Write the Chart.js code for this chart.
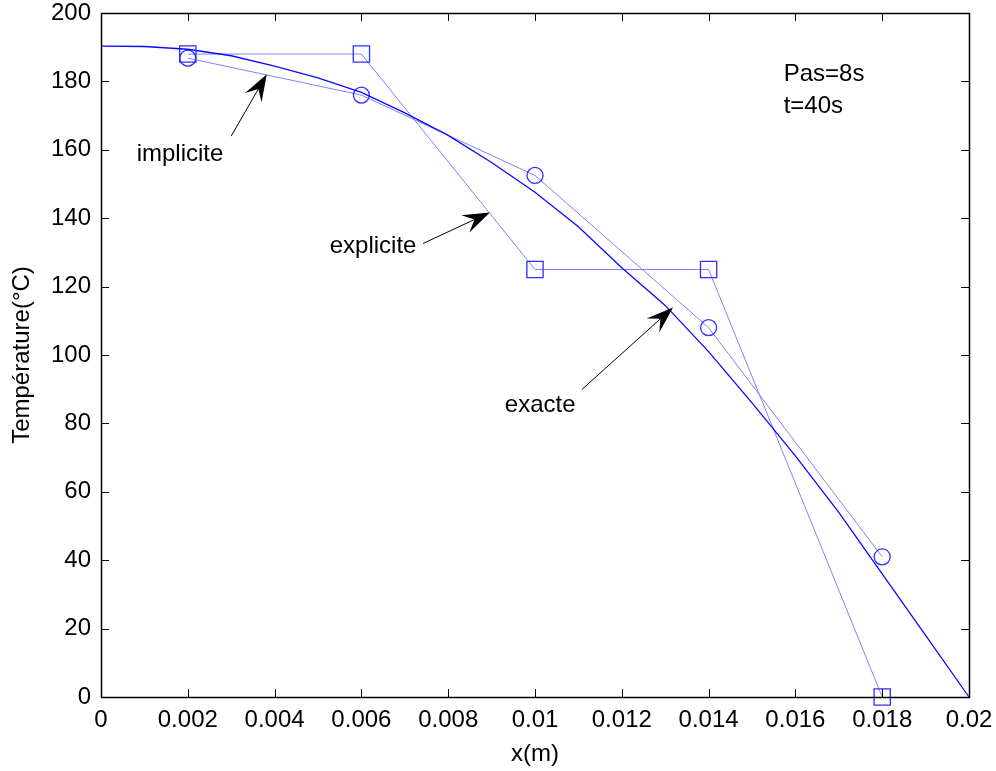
<!DOCTYPE html>
<html>
<head>
<meta charset="utf-8">
<script src="https://cdn.jsdelivr.net/npm/chart.js@4/dist/chart.umd.min.js"></script>
<style>
  html, body { margin: 0; padding: 0; background: #fff; }
  #wrap { width: 996px; height: 771px; }
</style>
</head>
<body>
<div id="wrap"><canvas id="c"></canvas></div>
<script>
// values
var xNodes = [0.002, 0.006, 0.01, 0.014, 0.018];
var tImplicite = [186.8, 176, 152.5, 108, 41];
var tExplicite = [188, 188, 125, 125, 0];

var xExact = [0, 0.001, 0.002, 0.003, 0.004, 0.005, 0.006, 0.007, 0.008, 0.009, 0.01,
              0.011, 0.012, 0.013, 0.014, 0.015, 0.016, 0.017, 0.018, 0.019, 0.02];
var tExact = [190.3, 190.2, 189.4, 187.5, 184.5, 181, 176.8, 170.8, 164.2, 156.3, 147.6,
              137.5, 125.5, 114.5, 101, 86, 70.5, 54, 36, 18, 0];

var xTicks = [0, 0.002, 0.004, 0.006, 0.008, 0.01, 0.012, 0.014, 0.016, 0.018, 0.02];
var xTickLabels = ['0', '0.002', '0.004', '0.006', '0.008', '0.01', '0.012', '0.014', '0.016', '0.018', '0.02'];
var yTicks = [0, 20, 40, 60, 80, 100, 120, 140, 160, 180, 200];
var yTickLabels = ['0', '20', '40', '60', '80', '100', '120', '140', '160', '180', '200'];

// annotations, in data units
var arrows = [
  { text: 'implicite', tx: 0.00182, ty: 158.7, x0: 0.0030, y0: 164, x1: 0.00382, y1: 182.1 },
  { text: 'explicite', tx: 0.00627, ty: 131.8, x0: 0.00742, y0: 132.6, x1: 0.00896, y1: 141.7 },
  { text: 'exacte', tx: 0.01012, ty: 85.2, x0: 0.01108, y0: 89.9, x1: 0.01318, y1: 113.9 }
];
var notes = [
  { text: 'Pas=8s', x: 0.01573, y: 182.1 },
  { text: 't=40s', x: 0.01573, y: 172.8 }
];

var FONT = 'Liberation Sans, Arial, sans-serif';

function pts(xs, ys) {
  var out = [];
  for (var i = 0; i < xs.length; i++) out.push({ x: xs[i], y: ys[i] });
  return out;
}

function drawArrow(ctx, x0, y0, x1, y1) {
  var dx = x1 - x0, dy = y1 - y0;
  var len = Math.sqrt(dx * dx + dy * dy);
  var ux = dx / len, uy = dy / len;
  var nx = -uy, ny = ux;
  var L = 27, W = 9.5, N = 17;
  ctx.beginPath();
  ctx.moveTo(x0, y0);
  ctx.lineTo(x1 - N * ux, y1 - N * uy);
  ctx.stroke();
  ctx.beginPath();
  ctx.moveTo(x1, y1);
  ctx.lineTo(x1 - L * ux + W * nx, y1 - L * uy + W * ny);
  ctx.lineTo(x1 - N * ux, y1 - N * uy);
  ctx.lineTo(x1 - L * ux - W * nx, y1 - L * uy - W * ny);
  ctx.closePath();
  ctx.fill();
}

var boxPlugin = {
  id: 'matlabBox',
  afterDraw: function(chart) {
    var ctx = chart.ctx, a = chart.chartArea;
    var xs = chart.scales.x, ys = chart.scales.y;
    ctx.save();
    ctx.strokeStyle = '#000';
    ctx.lineWidth = 1;
    // inward ticks on all four sides
    ctx.beginPath();
    xTicks.forEach(function(v) {
      var px = Math.round(xs.getPixelForValue(v)) + 0.5;
      ctx.moveTo(px, a.bottom); ctx.lineTo(px, a.bottom - 8);
      ctx.moveTo(px, a.top); ctx.lineTo(px, a.top + 8);
    });
    yTicks.forEach(function(v) {
      var py = Math.round(ys.getPixelForValue(v)) + 0.5;
      ctx.moveTo(a.left, py); ctx.lineTo(a.left + 8, py);
      ctx.moveTo(a.right, py); ctx.lineTo(a.right - 8, py);
    });
    ctx.stroke();
    ctx.lineWidth = 1.5;
    ctx.strokeRect(Math.round(a.left) + 0.5, Math.round(a.top) + 0.5,
                   Math.round(a.right - a.left), Math.round(a.bottom - a.top));

    // annotations
    ctx.fillStyle = '#000';
    ctx.lineWidth = 1;
    ctx.font = '24px ' + FONT;
    ctx.textBaseline = 'middle';
    arrows.forEach(function(r) {
      ctx.textAlign = 'center';
      ctx.fillText(r.text, xs.getPixelForValue(r.tx), ys.getPixelForValue(r.ty));
      drawArrow(ctx, xs.getPixelForValue(r.x0), ys.getPixelForValue(r.y0),
                xs.getPixelForValue(r.x1), ys.getPixelForValue(r.y1));
    });
    ctx.textAlign = 'left';
    notes.forEach(function(n) {
      ctx.fillText(n.text, xs.getPixelForValue(n.x), ys.getPixelForValue(n.y));
    });
    ctx.restore();
  }
};

var chart = new Chart(document.getElementById('c'), {
  type: 'scatter',
  data: {
    datasets: [{
      label: 'exacte',
      data: pts(xExact, tExact),
      showLine: true,
      borderColor: '#0a0aff',
      borderWidth: 1.3,
      pointRadius: 0,
      tension: 0,
      clip: false
    }, {
      label: 'implicite',
      data: pts(xNodes, tImplicite),
      showLine: true,
      borderColor: '#8080ff',
      borderWidth: 1,
      pointStyle: 'circle',
      pointRadius: 8,
      pointBorderColor: '#2e2eff',
      pointBackgroundColor: 'rgba(0,0,0,0)',
      pointBorderWidth: 1.3,
      clip: false
    }, {
      label: 'explicite',
      data: pts(xNodes, tExplicite),
      showLine: true,
      borderColor: '#8080ff',
      borderWidth: 1,
      pointStyle: 'rect',
      pointRadius: 11.5,
      pointBorderColor: '#2e2eff',
      pointBackgroundColor: 'rgba(0,0,0,0)',
      pointBorderWidth: 1.3,
      clip: false
    }]
  },
  options: {
    responsive: true,
    maintainAspectRatio: false,
    animation: false,
    layout: { padding: { top: 13, right: 27, left: 0, bottom: 0 } },
    plugins: { legend: { display: false }, tooltip: { enabled: false } },
    scales: {
      x: {
        type: 'linear',
        min: 0, max: 0.02,
        afterBuildTicks: function(s) { s.ticks = xTicks.map(function(v) { return { value: v }; }); },
        afterFit: function(s) { s.height = 74; s.paddingLeft = 0; s.paddingRight = 0; },
        grid: { display: false, drawTicks: false },
        border: { display: false },
        ticks: {
          autoSkip: false, maxRotation: 0, padding: 9, color: '#000',
          font: { family: FONT, size: 24 },
          callback: function(v, i) { return xTickLabels[i]; }
        },
        title: {
          display: true, text: 'x(m)', color: '#000',
          font: { family: FONT, size: 24 }, padding: { top: 0, bottom: 2 }
        }
      },
      y: {
        min: 0, max: 200,
        afterBuildTicks: function(s) { s.ticks = yTicks.map(function(v) { return { value: v }; }); },
        afterFit: function(s) { s.width = 101; s.paddingTop = 0; s.paddingBottom = 0; },
        grid: { display: false, drawTicks: false },
        border: { display: false },
        ticks: {
          autoSkip: false, padding: 10, color: '#000',
          font: { family: FONT, size: 24 },
          callback: function(v, i) { return yTickLabels[i]; }
        },
        title: {
          display: true, text: 'Température(°C)', color: '#000',
          font: { family: FONT, size: 24 }, padding: { top: 8, bottom: 0 }
        }
      }
    }
  },
  plugins: [boxPlugin]
});
</script>
</body>
</html>
